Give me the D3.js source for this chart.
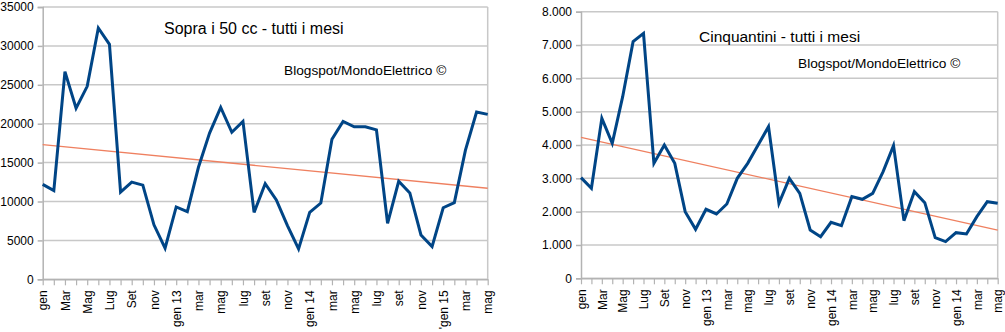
<!DOCTYPE html>
<html>
<head>
<meta charset="utf-8">
<script src="https://cdn.jsdelivr.net/npm/d3@7"></script>
<style>
  body { margin: 0; background: #fff; }
  svg { display: block; font-family: "Liberation Sans", Arial, sans-serif; }
</style>
</head>
<body>
<svg id="chart" width="1005" height="332"></svg>
<script>
// month labels (every other month is labelled)
const labelsLeft = ['gen', 'Mar', 'Mag', 'Lug', 'Set', 'nov', 'gen 13', 'mar', 'mag', 'lug', 'set', 'nov',
  'gen 14', 'mar', 'mag', 'lug', 'set', 'nov', "'gen 15", 'mar', 'mag'];
const labelsRight = ['gen', 'Mar', 'Mag', 'Lug', 'Set', 'nov', 'gen 13', 'mar', 'mag', 'lug', 'set', 'nov',
  'gen 14', 'mar', 'mag', 'lug', 'set', 'nov', 'gen 14', 'mar', 'mag'];

// sopra i 50 cc, gen 2012 - mag 2015
const sopra50 = [12200, 11400, 26700, 22000, 24800, 32300, 30200, 11200, 12500, 12100, 7000, 4000,
  9300, 8700, 14400, 18800, 22100, 18900, 20300, 8600, 12300, 10200, 6900, 3900,
  8600, 9800, 18000, 20300, 19600, 19600, 19200, 7200, 12600, 11100, 5700, 4200,
  9200, 9850, 16600, 21500, 21200];

// cinquantini
const cinquantini = [3020, 2700, 4800, 4050, 5450, 7100, 7350, 3450, 4000, 3450, 2000, 1470,
  2070, 1930, 2230, 3000, 3450, 4000, 4550, 2250, 3000, 2550, 1450, 1250,
  1680, 1580, 2450, 2370, 2550, 3200, 3980, 1730, 2600, 2270, 1220, 1100,
  1370, 1330, 1850, 2300, 2250];

const yTicksLeft = [0, 5000, 10000, 15000, 20000, 25000, 30000, 35000];
const yTicksRight = [0, 1000, 2000, 3000, 4000, 5000, 6000, 7000, 8000];

const itFormat = d3.formatLocale({ decimal: ',', thousands: '.', grouping: [3], currency: ['', '€'] }).format(',');

const svg = d3.select('#chart');

function drawChart(opts) {
  const { values, labels, yTicks, yMax, fmt, box, title, water } = opts;
  const g = svg.append('g');

  const x = d3.scalePoint()
    .domain(d3.range(values.length))
    .range([box.left, box.right]);

  const y = d3.scaleLinear()
    .domain([0, yMax])
    .range([box.bottom, box.top]);

  // horizontal grid
  g.append('g')
    .selectAll('line')
    .data(yTicks)
    .enter()
    .append('line')
    .attr('x1', box.left)
    .attr('x2', box.right)
    .attr('y1', d => y(d))
    .attr('y2', d => y(d))
    .attr('stroke', '#c8c8c8')
    .attr('stroke-width', 1.5);

  // right border
  g.append('line')
    .attr('x1', box.right).attr('x2', box.right)
    .attr('y1', box.top).attr('y2', box.bottom)
    .attr('stroke', '#c8c8c8')
    .attr('stroke-width', 1.5);

  // y axis
  const yAxis = g.append('g')
    .attr('transform', `translate(${box.left},0)`)
    .call(d3.axisLeft(y).tickValues(yTicks).tickFormat(fmt).tickSize(5).tickPadding(4));
  yAxis.select('.domain').attr('stroke', '#b3b3b3').attr('stroke-width', 1.5);
  yAxis.selectAll('.tick line').attr('stroke', '#b3b3b3').attr('stroke-width', 1.5);
  yAxis.selectAll('text')
    .style('font-size', '12px')
    .attr('fill', '#000');

  // x axis
  const xAxis = g.append('g')
    .attr('transform', `translate(0,${box.bottom})`)
    .call(d3.axisBottom(x).tickSize(6).tickSizeOuter(0)
      .tickFormat(i => i % 2 === 0 ? labels[i / 2] : ''));
  xAxis.select('.domain').attr('stroke', '#b3b3b3').attr('stroke-width', 1.5);
  xAxis.selectAll('.tick line').attr('stroke', '#b3b3b3').attr('stroke-width', 1.2);
  xAxis.selectAll('text')
    .style('font-size', '12px')
    .attr('fill', '#000')
    .attr('text-anchor', 'end')
    .attr('transform', 'rotate(-90)')
    .attr('x', -11)
    .attr('y', 0)
    .attr('dy', '0.35em');

  // trend line (least squares)
  const n = values.length;
  const mx = d3.mean(d3.range(n));
  const my = d3.mean(values);
  const slope = d3.sum(values, (v, i) => (i - mx) * (v - my)) / d3.sum(d3.range(n), i => (i - mx) * (i - mx));
  const icpt = my - slope * mx;
  g.append('line')
    .attr('x1', x(0)).attr('x2', x(n - 1))
    .attr('y1', y(icpt)).attr('y2', y(icpt + slope * (n - 1)))
    .attr('stroke', '#ef8060')
    .attr('stroke-width', 1.3);

  // series
  const line = d3.line()
    .x((d, i) => x(i))
    .y(d => y(d));

  g.append('path')
    .datum(values)
    .attr('d', line)
    .attr('fill', 'none')
    .attr('stroke', '#004586')
    .attr('stroke-width', 3)
    .attr('stroke-linejoin', 'miter');

  g.append('text')
    .attr('x', title.x).attr('y', title.y)
    .style('font-size', title.size + 'px')
    .text(title.text);

  g.append('text')
    .attr('x', water.x).attr('y', water.y)
    .style('font-size', '13.7px')
    .text('Blogspot/MondoElettrico ©');
}

drawChart({
  values: sopra50,
  labels: labelsLeft,
  yTicks: yTicksLeft,
  yMax: 35000,
  fmt: d3.format('d'),
  box: { left: 42.7, right: 487.7, top: 7, bottom: 279.3 },
  title: { text: 'Sopra i 50 cc - tutti i mesi', x: 164, y: 34, size: 16 },
  water: { x: 284, y: 75 }
});

drawChart({
  values: cinquantini,
  labels: labelsRight,
  yTicks: yTicksRight,
  yMax: 8000,
  fmt: itFormat,
  box: { left: 581, right: 997.7, top: 11.7, bottom: 278.3 },
  title: { text: 'Cinquantini - tutti i mesi', x: 699, y: 41.7, size: 15.5 },
  water: { x: 798, y: 67.7 }
});
</script>
</body>
</html>
